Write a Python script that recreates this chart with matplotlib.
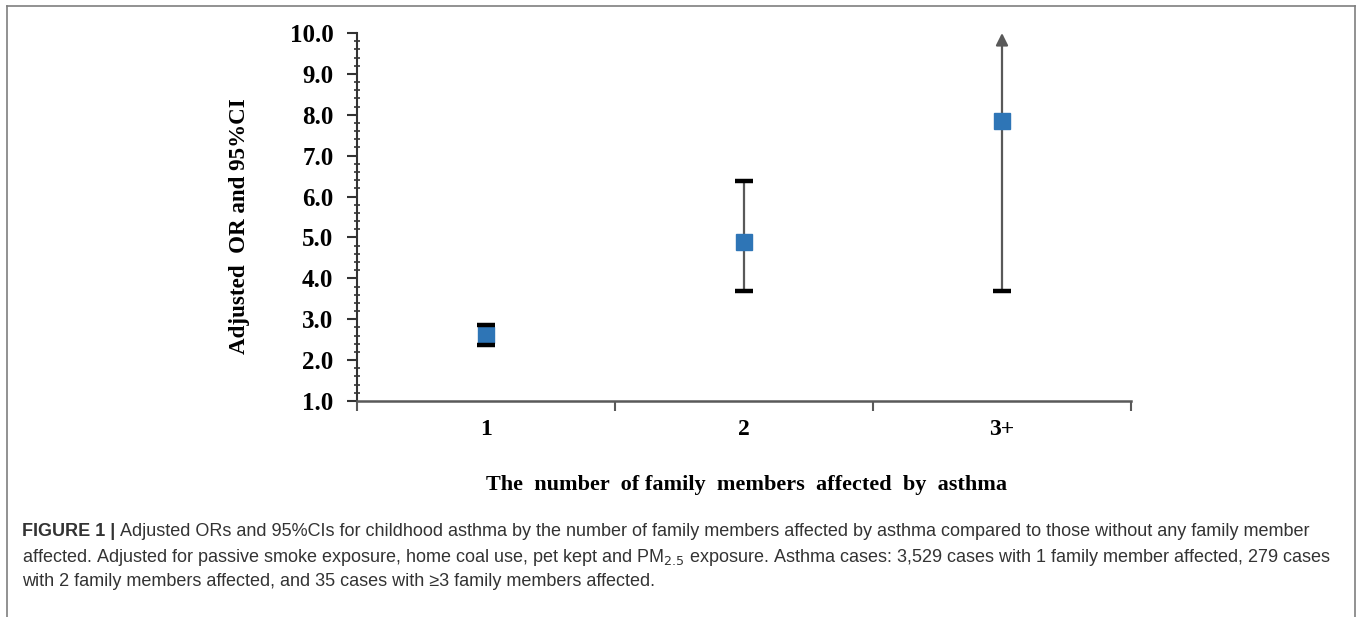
import matplotlib
matplotlib.use("Agg")
import matplotlib.pyplot as plt
from matplotlib.lines import Line2D
from matplotlib.ticker import MultipleLocator

# data
groups = ["1", "2", "3+"]
odds_ratio = [2.61, 4.89, 7.85]
ci_low = [2.36, 3.69, 3.69]
ci_high = [2.87, 6.38, 10.0]
open_upper = [False, False, True]   # CI runs past the axis -> arrow

caption_bold = "FIGURE 1 | "
caption_1 = ("Adjusted ORs and 95%CIs for childhood asthma by the number of family members "
             "affected by asthma compared to those without any family member")
caption_2 = ("affected. Adjusted for passive smoke exposure, home coal use, pet kept and "
             "PM$_{2.5}$ exposure. Asthma cases: 3,529 cases with 1 family member affected, 279 cases")
caption_3 = "with 2 family members affected, and 35 cases with \u22653 family members affected."

serif = ["Liberation Serif", "DejaVu Serif"]
sans = ["Liberation Sans", "DejaVu Sans"]
blue = "#2E75B6"
grey = "#595959"

fig = plt.figure(figsize=(13.57, 6.17), dpi=100)
ax = fig.add_axes([357 / 1357, 1 - 401 / 617, (1131 - 357) / 1357, (401 - 33) / 617])

x = list(range(1, len(groups) + 1))

# whiskers
for xi, lo, hi, op in zip(x, ci_low, ci_high, open_upper):
    if op:
        ax.annotate("", xy=(xi, hi), xytext=(xi, lo),
                    arrowprops=dict(arrowstyle="-|>", color=grey, lw=1.6,
                                    mutation_scale=18, shrinkA=0, shrinkB=0),
                    zorder=1)
    else:
        ax.plot([xi, xi], [lo, hi], color=grey, lw=1.6, zorder=1)

# points
ax.plot(x, odds_ratio, linestyle="none", marker="s", markersize=12,
        color=blue, markeredgecolor=blue, zorder=2)

# caps
cap_x = [xi for xi in x] + [xi for xi, op in zip(x, open_upper) if not op]
cap_y = list(ci_low) + [hi for hi, op in zip(ci_high, open_upper) if not op]
ax.plot(cap_x, cap_y, linestyle="none", marker="_", markersize=12.5,
        markeredgewidth=3.2, color="black", zorder=3)

ax.set_xlim(0.5, len(groups) + 0.5)
ax.set_ylim(1.0, 10.0)
ax.yaxis.set_minor_locator(MultipleLocator(0.2))
ax.set_yticks([i for i in range(1, 11)])
ax.set_yticklabels(["%.1f" % v for v in range(1, 11)],
                   fontfamily=serif, fontweight="bold", fontsize=18)

ax.set_xticks([i + 0.5 for i in range(0, len(groups) + 1)])
ax.set_xticklabels([])
ax.set_xticks(x, minor=True)
ax.set_xticklabels(groups, minor=True, fontfamily=serif, fontweight="bold", fontsize=17)
ax.tick_params(axis="x", which="major", direction="out", length=7, width=1.5, color=grey)
ax.tick_params(axis="x", which="minor", length=0, pad=13)
ax.tick_params(axis="y", which="major", direction="out", length=7, width=1.5, color="#333333", pad=10)
ax.tick_params(axis="y", which="minor", direction="inout", length=5, width=1.2, color="#333333")

for s in ["top", "right"]:
    ax.spines[s].set_visible(False)
ax.spines["left"].set_color("#333333")
ax.spines["left"].set_linewidth(1.5)
ax.spines["bottom"].set_color(grey)
ax.spines["bottom"].set_linewidth(1.8)

fig.text(240 / 1357, 1 - 226 / 617, "Adjusted  OR and 95%CI", rotation=90,
         ha="center", va="center", fontfamily=serif, fontweight="bold", fontsize=16.6)
fig.text(747 / 1357, 1 - 485 / 617, "The  number  of family  members  affected  by  asthma",
         ha="center", va="center", fontfamily=serif, fontweight="bold", fontsize=16)

# outer frame
fw = dict(color="#7f7f7f", lw=1.2, transform=fig.transFigure)
fig.add_artist(Line2D([7 / 1357, 7 / 1357], [0, 1 - 6 / 617], **fw))
fig.add_artist(Line2D([1355 / 1357, 1355 / 1357], [0, 1 - 6 / 617], **fw))
fig.add_artist(Line2D([7 / 1357, 1355 / 1357], [1 - 6 / 617, 1 - 6 / 617], **fw))

# caption
cap_kw = dict(fontfamily=sans, fontsize=13, color="#333333", va="center")
x0 = 22 / 1357
t = fig.text(x0, 1 - 532 / 617, caption_bold, fontweight="bold", **cap_kw)
fig.canvas.draw()
bb = t.get_window_extent()
fig.text(bb.x1 / fig.bbox.width, 1 - 532 / 617, caption_1, **cap_kw)
fig.text(x0, 1 - 557 / 617, caption_2, **cap_kw)
fig.text(x0, 1 - 582 / 617, caption_3, **cap_kw)

fig.savefig("out.png", dpi=100)
